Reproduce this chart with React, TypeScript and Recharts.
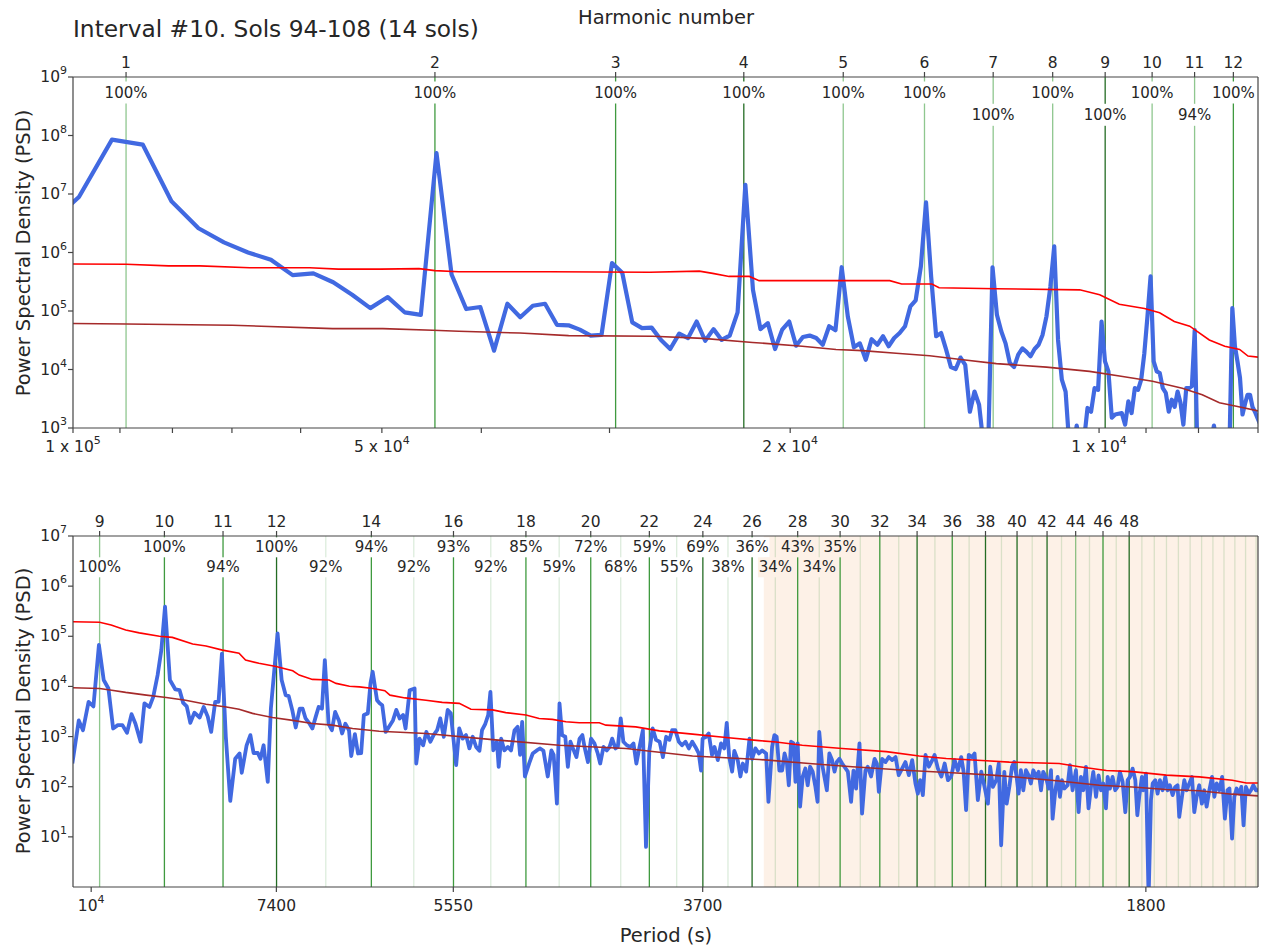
import React from "react"
import { ComposedChart, Line, XAxis, YAxis, ReferenceLine, ReferenceArea } from "recharts"

const FONT = "DejaVu Sans, sans-serif"
const TEXT = "#262626"
const AXIS = "#444"
const SOL = 88775 // seconds per sol, harmonic n sits at a period of SOL / n

// ---------- top panel: periods 1e5 .. 7000 s ----------
// spectrum bins at k / BINS_PER_SOL cycles per sol, starting at bin 12
const BINS_PER_SOL = 14.45
const TOP_FIRST_BIN = 12
const topPsd = [
  2.5e6, 8.9e6, 8.5e7, 7.0e7, 7.5e6, 2.6e6, 1.49e6, 1.0e6, 7.5e5, 4.1e5,
  4.4e5, 3.1e5, 1.9e5, 1.12e5, 1.73e5, 9.5e4, 8.6e4, 5.0e7, 4.2e5, 1.08e5,
  1.17e5, 2.1e4, 1.33e5, 7.8e4, 1.23e5, 1.33e5, 5.8e4, 5.7e4, 4.8e4, 3.8e4,
  3.9e4, 6.6e5, 4.5e5, 6.4e4, 5.1e4, 5.2e4, 3.2e4, 2.24e4, 4.1e4, 3.45e4,
  6.6e4, 3.1e4, 4.9e4, 3.2e4, 3.8e4, 9.5e4, 1.44e7, 2.3e5, 4.9e4, 6.2e4,
  2.24e4, 4.8e4, 6.6e4, 2.55e4, 3.6e4, 3.8e4, 3.45e4, 2.65e4, 5.5e4, 4.7e4,
  5.6e5, 8.0e4, 2.4e4, 2.8e4, 1.47e4, 3.3e4, 2.65e4, 3.7e4, 2.5e4, 3.45e4,
  4.2e4, 5.5e4, 1.2e5, 1.52e5, 5.8e5, 7.2e6, 3.9e5, 3.7e4, 4.2e4, 2.2e4,
  1.1e4, 1.02e4, 1.6e4, 1.2e4, 1.9e3, 4.2e3, 2.5e3, 500, 400, 5.6e5,
  8.6e4, 4.5e4, 2.8e4, 1.29e4, 1.1e4, 1.8e4, 2.3e4, 2.0e4, 1.68e4, 2.24e4,
  2.65e4, 3.9e4, 8.1e4, 2.6e5, 1.27e6, 3.2e4, 6.7e3, 4.2e3, 500, 400,
  1.1e3, 500, 600, 2.2e3, 1.9e3, 4.8e3, 4.5e3, 6.6e4, 1.38e4, 9.3e3,
  1.5e3, 1.7e3, 1.75e3, 1.8e3, 1.14e3, 2.85e3, 1.8e3, 4.8e3, 4.5e3, 6.7e3,
  1.9e4, 8.1e4, 3.9e5, 1.38e4, 9.3e3, 8.7e3, 4.8e3, 4.0e3, 1.9e3, 3.05e3,
  2.3e3, 4.2e3, 2.7e3, 1.14e3, 4.8e3, 4.8e3, 5.2e3, 4.7e4, 300, 200,
  400, 300, 500, 600, 1.1e3, 600, 300, 400, 200, 500,
  800, 1.12e5, 2.5e4, 1.38e4, 7.2e3, 1.7e3, 2.6e3, 3.7e3, 3.7e3, 2.3e3,
  1.9e3, 1.5e3, 1.2e3,
]
const topUpper: [number, number][] = [
  [0.83, 6.4e5], [1.0, 6.3e5], [1.1, 5.9e5], [1.18, 5.9e5], [1.32, 5.5e5], [1.51, 5.5e5],
  [1.61, 5.2e5], [1.77, 5.2e5], [1.93, 5.3e5], [2.0, 4.9e5], [2.11, 4.7e5], [2.59, 4.7e5],
  [3.24, 4.6e5], [3.62, 4.8e5], [3.73, 4.4e5], [3.87, 3.9e5], [4.05, 3.9e5], [4.14, 3.3e5],
  [4.85, 3.3e5], [5.55, 3.3e5], [5.7, 2.9e5], [6.1, 2.9e5], [6.2, 2.5e5], [7.05, 2.4e5],
  [8.5, 2.3e5], [8.89, 1.9e5], [9.29, 1.3e5], [9.83, 1.1e5], [10.17, 9.3e4], [10.51, 6.6e4],
  [10.88, 5.5e4], [11.37, 3.2e4], [11.77, 2.5e4], [12.17, 2.2e4], [12.4, 1.7e4], [12.8, 1.6e4],
]
const topMean: [number, number][] = [
  [0.83, 6.2e4], [1.0, 6.0e4], [1.27, 5.7e4], [1.59, 5.0e4], [1.78, 5.0e4], [1.99, 4.7e4],
  [2.11, 4.5e4], [2.42, 4.2e4], [2.7, 3.8e4], [3.26, 3.7e4], [3.65, 3.4e4], [4.08, 2.9e4],
  [4.56, 2.5e4], [4.92, 2.2e4], [5.22, 2.1e4], [5.63, 1.9e4], [6.07, 1.72e4], [6.54, 1.47e4],
  [7.05, 1.26e4], [7.89, 1.1e4], [8.69, 9.3e3], [9.36, 7.6e3], [10.01, 6.3e3], [10.7, 4.8e3],
  [11.19, 3.7e3], [11.63, 2.7e3], [12.08, 2.35e3], [12.8, 1.9e3],
]
const topHarmonics = [1, 2, 3, 4, 5, 6, 7, 8, 9, 10, 11, 12]
const topShade = ["light", "medium", "medium", "dark", "light", "light", "light", "light", "dark", "light", "light", "medium"]
const topPct = ["100%", "100%", "100%", "100%", "100%", "100%", "100%", "100%", "100%", "100%", "94%", "100%"]
const topPctRow = [0, 0, 0, 0, 0, 0, 1, 0, 1, 0, 1, 0]
const topPeriodTicks = [100000, 90000, 80000, 70000, 60000, 50000, 40000, 30000, 20000, 10000, 9000, 8000, 7000]
const topPeriodLabels: Record<number, [string, string]> = {
  100000: ["1 x 10", "5"],
  50000: ["5 x 10", "4"],
  20000: ["2 x 10", "4"],
  10000: ["1 x 10", "4"],
}

// ---------- bottom panel: periods 10300 .. 1500 s ----------
// [harmonic number (cycles per sol), PSD]
const bottomPsd: [number, number][] = [
  [8.61, 290], [8.7, 2100], [8.76, 1340], [8.84, 4900], [8.91, 4000], [8.99, 67000],
  [9.06, 13400], [9.13, 9100], [9.2, 1450], [9.27, 1690], [9.34, 1690], [9.41, 1190],
  [9.48, 2800], [9.54, 1800], [9.62, 790], [9.68, 4600], [9.76, 3900], [9.82, 6200],
  [9.89, 16800], [9.95, 53000], [10.01, 390000], [10.09, 13400], [10.18, 8700], [10.25, 8400],
  [10.31, 4700], [10.37, 4000], [10.43, 1880], [10.5, 3000], [10.59, 2400], [10.66, 3900],
  [10.73, 2500], [10.79, 1240], [10.86, 4900], [10.92, 4900], [10.98, 45000], [11.05, 990],
  [11.13, 52], [11.22, 360], [11.3, 460], [11.34, 190], [11.43, 670], [11.5, 1070],
  [11.56, 470], [11.64, 470], [11.69, 360], [11.75, 670], [11.83, 125], [11.89, 3600],
  [11.95, 18000], [12.02, 114000], [12.1, 13400], [12.18, 6700], [12.24, 6400], [12.31, 3400],
  [12.38, 1520], [12.46, 3600], [12.52, 3600], [12.58, 2300], [12.65, 1880], [12.72, 1450],
  [12.79, 2500], [12.85, 3900], [12.92, 3600], [12.98, 33500], [13.06, 1800], [13.13, 1340],
  [13.2, 3100], [13.28, 2100], [13.35, 1150], [13.42, 1800], [13.5, 1340], [13.55, 410],
  [13.63, 1120], [13.7, 460], [13.77, 470], [13.83, 2700], [13.92, 2900], [13.98, 11500],
  [14.03, 19600], [14.13, 5300], [14.19, 4600], [14.25, 4200], [14.33, 1240], [14.43, 1690],
  [14.5, 2100], [14.58, 3400], [14.66, 2300], [14.74, 2700], [14.8, 1450], [14.9, 8400],
  [15.02, 9100], [15.06, 290], [15.14, 910], [15.23, 670], [15.31, 1240], [15.41, 790],
  [15.49, 1070], [15.58, 1340], [15.66, 2300], [15.75, 990], [15.85, 3400], [15.93, 2900],
  [16.07, 270], [16.15, 1450], [16.24, 910], [16.33, 1070], [16.42, 580], [16.51, 990],
  [16.6, 620], [16.69, 520], [16.76, 1340], [16.85, 1800], [16.93, 2700], [16.99, 7800],
  [17.07, 530], [17.17, 790], [17.22, 250], [17.29, 910], [17.38, 530], [17.48, 620],
  [17.57, 530], [17.67, 1340], [17.76, 1560], [17.83, 430], [17.89, 1970], [17.97, 160],
  [18.1, 300], [18.2, 460], [18.32, 530], [18.42, 580], [18.52, 520], [18.65, 160],
  [18.76, 530], [18.83, 430], [18.93, 46], [19.01, 4600], [19.09, 1070], [19.19, 990],
  [19.27, 250], [19.35, 790], [19.43, 580], [19.54, 390], [19.64, 910], [19.73, 1070],
  [19.8, 620], [19.91, 310], [20.01, 910], [20.12, 730], [20.23, 460], [20.31, 290],
  [20.42, 620], [20.53, 530], [20.62, 620], [20.71, 910], [20.82, 580], [20.9, 620],
  [21.0, 2300], [21.09, 790], [21.21, 670], [21.33, 620], [21.44, 730], [21.54, 290],
  [21.65, 620], [21.77, 1340], [21.88, 6.3], [22.0, 530], [22.12, 1450], [22.24, 860],
  [22.37, 790], [22.49, 390], [22.61, 990], [22.73, 860], [22.83, 1340], [22.95, 1340],
  [23.08, 790], [23.2, 670], [23.33, 790], [23.46, 580], [23.59, 790], [23.71, 620],
  [23.84, 460], [23.93, 210], [23.99, 910], [24.13, 990], [24.23, 1150], [24.36, 430],
  [24.46, 620], [24.59, 340], [24.72, 730], [24.85, 580], [24.95, 1880], [25.05, 390],
  [25.17, 200], [25.26, 520], [25.4, 340], [25.51, 160], [25.61, 290], [25.75, 200],
  [25.89, 910], [26.0, 360], [26.14, 580], [26.29, 460], [26.43, 530], [26.6, 460],
  [26.7, 50], [26.86, 620], [26.96, 1070], [27.06, 990], [27.18, 210], [27.3, 210],
  [27.41, 460], [27.51, 310], [27.6, 107], [27.7, 790], [27.81, 730], [27.9, 125],
  [28.0, 730], [28.11, 40], [28.23, 160], [28.35, 230], [28.46, 107], [28.57, 250],
  [28.69, 200], [28.82, 99], [28.92, 50], [29.0, 1240], [29.13, 290], [29.24, 160],
  [29.36, 85], [29.48, 460], [29.61, 340], [29.73, 200], [29.84, 310], [29.97, 360],
  [30.1, 290], [30.21, 250], [30.38, 200], [30.54, 50], [30.66, 210], [30.79, 92],
  [30.96, 730], [31.09, 29], [31.26, 210], [31.38, 250], [31.55, 160], [31.73, 360],
  [31.85, 290], [31.95, 79], [32.12, 360], [32.3, 310], [32.47, 390], [32.65, 340],
  [32.83, 390], [33.0, 170], [33.18, 230], [33.36, 310], [33.55, 170], [33.73, 340],
  [33.91, 116], [34.04, 73], [34.17, 135], [34.32, 68], [34.47, 430], [34.66, 250],
  [34.85, 340], [34.98, 430], [35.17, 230], [35.37, 160], [35.56, 290], [35.75, 135],
  [35.94, 160], [36.14, 340], [36.33, 210], [36.53, 390], [36.67, 200], [36.82, 34],
  [36.98, 430], [37.18, 390], [37.33, 460], [37.53, 54], [37.74, 200], [37.94, 99],
  [38.15, 46], [38.29, 250], [38.46, 99], [38.67, 135], [38.83, 290], [38.98, 6.8],
  [39.18, 198], [39.33, 46], [39.5, 99], [39.67, 249], [39.82, 313], [39.97, 157],
  [40.1, 73], [40.25, 213], [40.41, 85], [40.58, 213], [40.76, 169], [40.91, 116],
  [41.07, 213], [41.25, 157], [41.43, 198], [41.59, 85], [41.74, 198], [41.92, 157],
  [42.11, 92], [42.27, 213], [42.38, 23], [42.57, 85], [42.73, 157], [42.89, 63],
  [43.03, 135], [43.19, 92], [43.43, 107], [43.59, 269], [43.78, 85], [44.02, 213],
  [44.21, 31], [44.38, 157], [44.55, 85], [44.74, 249], [44.93, 37], [45.11, 99],
  [45.28, 198], [45.48, 63], [45.67, 169], [45.85, 85], [46.02, 116], [46.22, 37],
  [46.35, 157], [46.52, 92], [46.72, 157], [46.92, 85], [47.1, 99], [47.28, 198],
  [47.49, 125], [47.7, 31], [47.88, 135], [48.06, 157], [48.27, 230], [48.48, 135],
  [48.64, 27], [48.79, 63], [49.0, 157], [49.11, 85], [49.33, 183], [49.54, 0.6],
  [49.73, 54], [49.87, 116], [50.08, 135], [50.27, 73], [50.46, 135], [50.68, 85],
  [50.9, 157], [51.09, 85], [51.28, 107], [51.51, 68], [51.73, 99], [51.93, 107],
  [52.07, 25], [52.3, 63], [52.5, 135], [52.7, 85], [52.93, 116], [53.16, 157],
  [53.36, 31], [53.56, 63], [53.79, 107], [54.02, 46], [54.23, 85], [54.44, 40],
  [54.68, 85], [54.92, 157], [55.13, 63], [55.34, 116], [55.59, 85], [55.83, 157],
  [56.08, 23], [56.32, 85], [56.5, 92], [56.74, 9.2], [56.95, 63], [57.16, 92],
  [57.41, 73], [57.6, 99], [57.81, 17], [58.03, 99], [58.29, 73], [58.51, 85],
  [58.73, 107], [58.99, 85], [59.24, 85],
]
const bottomUpper: [number, number][] = [
  [8.6, 1.95e5], [9.0, 1.9e5], [9.17, 1.68e5], [9.39, 1.33e5], [9.6, 1.17e5], [9.92, 1.0e5],
  [10.13, 9.5e4], [10.47, 7.0e4], [10.7, 6.4e4], [10.99, 5.3e4], [11.29, 4.6e4], [11.41, 3.35e4],
  [11.66, 2.9e4], [11.99, 2.5e4], [12.32, 2.05e4], [12.45, 1.68e4], [12.72, 1.38e4], [13.07, 1.34e4],
  [13.22, 1.15e4], [13.51, 1.01e4], [13.73, 9.8e3], [14.04, 9.1e3], [14.31, 8.2e3], [14.43, 6.7e3],
  [14.79, 5.9e3], [15.3, 5.3e3], [15.71, 4.8e3], [16.15, 4.6e3], [16.46, 3.5e3], [17.05, 3.4e3],
  [17.42, 3.0e3], [18.0, 2.7e3], [18.39, 2.3e3], [18.79, 2.2e3], [19.21, 1.97e3], [19.63, 1.88e3],
  [20.28, 1.88e3], [20.5, 1.69e3], [21.52, 1.56e3], [22.36, 1.3e3], [23.6, 1.12e3], [24.92, 960],
  [26.3, 830], [27.03, 780], [28.21, 670], [30.1, 580], [32.34, 500], [34.12, 410],
  [35.65, 366], [38.05, 330], [39.5, 310], [41.0, 300], [42.84, 290], [44.26, 250],
  [46.25, 210], [48.25, 200], [50.99, 170], [53.8, 157], [56.76, 135], [58.07, 119], [59.5, 119],
]
const bottomMean: [number, number][] = [
  [8.6, 9.4e3], [9.0, 9.1e3], [9.18, 8.4e3], [9.39, 7.6e3], [9.71, 6.7e3], [10.03, 6.0e3],
  [10.35, 5.3e3], [10.7, 4.4e3], [11.06, 3.9e3], [11.29, 3.5e3], [11.54, 2.9e3], [11.92, 2.4e3],
  [12.32, 2.1e3], [12.72, 1.82e3], [13.14, 1.69e3], [13.58, 1.45e3], [14.18, 1.28e3], [15.3, 1.15e3],
  [17.05, 870], [19.0, 670], [21.18, 580], [23.6, 410], [26.3, 350], [28.53, 290],
  [30.6, 250], [33.57, 210], [36.0, 190], [38.42, 170], [39.5, 160], [41.0, 146],
  [42.84, 130], [45.73, 107], [48.25, 99], [50.99, 88], [53.8, 83], [56.76, 71], [59.5, 65],
]
const bottomHarmonics = [
  9, 10, 11, 12, 13, 14, 15, 16, 17, 18, 19, 20, 21, 22, 23, 24, 25, 26, 27, 28, 29, 30, 31, 32, 33, 34,
  35, 36, 37, 38, 39, 40, 41, 42, 43, 44, 45, 46, 47, 48, 49, 50, 51, 52, 53, 54, 55, 56, 57, 58, 59,
]
const bottomShade = [
  "light", "medium", "medium", "dark", "pale", "medium", "pale", "medium", "pale", "medium",
  "pale", "medium", "pale", "medium", "pale", "dark", "pale", "dark", "pale", "medium",
  "pale", "medium", "pale", "medium", "pale", "dark", "pale", "medium", "pale", "dark",
  "pale", "dark", "pale", "dark", "pale", "light", "pale", "medium", "pale", "dark",
  "pale", "pale", "pale", "pale", "pale", "pale", "pale", "pale", "pale", "pale", "pale",
]
const bottomTickHarmonics = [9, 10, 11, 12, 14, 16, 18, 20, 22, 24, 26, 28, 30, 32, 34, 36, 38, 40, 42, 44, 46, 48]
const bottomPctHarmonics = [9, 10, 11, 12, 13, 14, 15, 16, 17, 18, 19, 20, 21, 22, 23, 24, 25, 26, 27, 28, 29, 30]
const bottomPct = [
  "100%", "100%", "94%", "100%", "92%", "94%", "92%", "93%", "92%", "85%", "59%",
  "72%", "68%", "59%", "55%", "69%", "38%", "36%", "34%", "43%", "34%", "35%",
]
const bottomPctRow = [1, 0, 1, 0, 1, 0, 1, 0, 1, 0, 1, 0, 1, 0, 1, 0, 1, 0, 1, 0, 1, 0]
const bottomPeriodTicks = [10000, 7400, 5550, 3700, 1800]
const bottomPeriodLabels: Record<number, [string, string]> = {
  10000: ["10", "4"],
  7400: ["7400", ""],
  5550: ["5550", ""],
  3700: ["3700", ""],
  1800: ["1800", ""],
}
const SHADED_FROM = 26.5 // harmonic where the shaded band starts
const SHADE_FILL = "#f4a460"
const SHADE_OPACITY = 0.15

const SHADES: Record<string, { color: string; opacity: number }> = {
  dark: { color: "#186418", opacity: 0.95 },
  medium: { color: "#2a8f2a", opacity: 0.9 },
  light: { color: "#1f8f1f", opacity: 0.5 },
  pale: { color: "#2f8f2f", opacity: 0.17 },
}

const toRows = (pts: [number, number][]) => pts.map(([h, v]) => ({ h, v }))

function PowTick(p: any) {
  const exp = Math.round(Math.log10(p.payload.value))
  return (
    <text x={p.x - 1} y={p.y} textAnchor="end" dominantBaseline="central" fontSize={15.5} fill={TEXT} fontFamily={FONT}>
      10<tspan dy={-7} fontSize={11}>{exp}</tspan>
    </text>
  )
}

function HarmTick(p: any) {
  return (
    <text x={p.x} y={p.y - 9} textAnchor="middle" dominantBaseline="central" fontSize={15.5} fill={TEXT} fontFamily={FONT}>
      {p.payload.value}
    </text>
  )
}

function makePeriodTick(labels: Record<number, [string, string]>) {
  return (p: any) => {
    const lab = labels[Math.round(SOL / p.payload.value)]
    if (!lab) return <g />
    return (
      <text x={p.x} y={p.y + 13.5} textAnchor="middle" dominantBaseline="central" fontSize={15.5} fill={TEXT} fontFamily={FONT}>
        {lab[0]}
        {lab[1] ? <tspan dy={-7} fontSize={11}>{lab[1]}</tspan> : null}
      </text>
    )
  }
}

function makePctLabel(text: string, centerY: number, boxH: number, shaded: boolean) {
  return (p: any) => {
    const vb = p.viewBox
    const w = text.length * 9.6 + 6
    const cy = vb.y + centerY
    return (
      <g>
        <rect x={vb.x - w / 2} y={cy - boxH / 2} width={w} height={boxH} fill="#fff" />
        {shaded ? (
          <rect x={vb.x - w / 2} y={cy - boxH / 2} width={w} height={boxH} fill={SHADE_FILL} fillOpacity={SHADE_OPACITY} />
        ) : null}
        <text x={vb.x} y={cy} textAnchor="middle" dominantBaseline="central" fontSize={15} fill={TEXT} fontFamily={FONT}>
          {text}
        </text>
      </g>
    )
  }
}

function Panel(props: any) {
  const {
    top, height, topAxisH, bottomAxisH, xDomain, yDomain, yTicks, periodTicks, periodLabels,
    harmTicks, harmLines, harmShade, pctHarm, pctText, pctRow, rowY, rowH, psd, upper, mean, shadeFrom, blueWidth,
  } = props
  return (
    <div style={{ position: "absolute", left: 0, top }}>
      <ComposedChart width={1264} height={height} margin={{ top: 0, right: 0, bottom: 0, left: 0 }}>
        <XAxis
          xAxisId="p" type="number" dataKey="h" scale="log" domain={xDomain} allowDataOverflow
          ticks={periodTicks.map((s: number) => SOL / s)} tick={makePeriodTick(periodLabels)} interval={0}
          tickSize={5} tickMargin={0} height={bottomAxisH} stroke={AXIS} strokeWidth={1.2}
        />
        <XAxis
          xAxisId="harm" orientation="top" type="number" dataKey="h" scale="log" domain={xDomain} allowDataOverflow
          ticks={harmTicks} tick={HarmTick} interval={0}
          tickSize={5} tickMargin={0} height={topAxisH} stroke={AXIS} strokeWidth={1.2}
        />
        <YAxis
          yAxisId="psd" type="number" scale="log" domain={yDomain} allowDataOverflow ticks={yTicks}
          tick={PowTick} interval={0} tickSize={5} tickMargin={0} width={73} stroke={AXIS} strokeWidth={1.2}
        />
        <YAxis yAxisId="frame" orientation="right" type="number" domain={[0, 1]} tick={false} tickLine={false} width={6} stroke={AXIS} strokeWidth={1.2} />
        {shadeFrom ? (
          <ReferenceArea xAxisId="p" yAxisId="psd" x1={shadeFrom} x2={xDomain[1]} fill={SHADE_FILL} fillOpacity={SHADE_OPACITY} stroke="none" ifOverflow="hidden" />
        ) : null}
        {harmLines.map((n: number, i: number) => {
          const s = SHADES[harmShade[i]]
          const pi = pctHarm.indexOf(n)
          const shaded = !!shadeFrom && n >= shadeFrom
          return (
            <ReferenceLine
              key={n} xAxisId="p" yAxisId="psd" x={n} stroke={s.color} strokeOpacity={s.opacity} strokeWidth={1.3}
              ifOverflow="hidden"
              label={pi >= 0 ? makePctLabel(pctText[pi], rowY[pctRow[pi]], rowH, shaded) : undefined}
            />
          )
        })}
        <Line xAxisId="p" yAxisId="psd" data={psd} dataKey="v" type="linear" dot={false} stroke="#4169e1" strokeWidth={blueWidth} strokeLinejoin="round" isAnimationActive={false} />
        <Line xAxisId="p" yAxisId="psd" data={toRows(mean)} dataKey="v" type="linear" dot={false} stroke="#a52a2a" strokeWidth={1.6} isAnimationActive={false} />
        <Line xAxisId="p" yAxisId="psd" data={toRows(upper)} dataKey="v" type="linear" dot={false} stroke="#ff0000" strokeWidth={1.6} isAnimationActive={false} />
      </ComposedChart>
    </div>
  )
}

export default function App() {
  const topRows = topPsd.map((v, i) => ({ h: (TOP_FIRST_BIN + i) / BINS_PER_SOL, v }))
  return (
    <div style={{ position: "absolute", left: 0, top: 0, width: 1264, height: 951, background: "#fff", fontFamily: FONT }}>
      <Panel
        top={0} height={470} topAxisH={77} bottomAxisH={42}
        xDomain={[SOL / 100000, SOL / 7000]} yDomain={[1e3, 1e9]} yTicks={[1e3, 1e4, 1e5, 1e6, 1e7, 1e8, 1e9]}
        periodTicks={topPeriodTicks} periodLabels={topPeriodLabels}
        harmTicks={topHarmonics} harmLines={topHarmonics} harmShade={topShade}
        pctHarm={topHarmonics} pctText={topPct} pctRow={topPctRow} rowY={[15.5, 37.8]} rowH={22}
        psd={topRows} upper={topUpper} mean={topMean} blueWidth={4.2}
      />
      <Panel
        top={460} height={490} topAxisH={76} bottomAxisH={63}
        xDomain={[SOL / 10300, SOL / 1500]} yDomain={[1, 1e7]} yTicks={[10, 1e2, 1e3, 1e4, 1e5, 1e6, 1e7]}
        periodTicks={bottomPeriodTicks} periodLabels={bottomPeriodLabels}
        harmTicks={bottomTickHarmonics} harmLines={bottomHarmonics} harmShade={bottomShade}
        pctHarm={bottomPctHarmonics} pctText={bottomPct} pctRow={bottomPctRow} rowY={[11.3, 31.3]} rowH={20}
        psd={toRows(bottomPsd)} upper={bottomUpper} mean={bottomMean} shadeFrom={SHADED_FROM} blueWidth={3.8}
      />
      <svg width={1264} height={951} style={{ position: "absolute", left: 0, top: 0, pointerEvents: "none" }}>
        <text x={73} y={28} fontSize={23.3} dominantBaseline="central" fill={TEXT} fontFamily={FONT}>
          Interval #10. Sols 94-108 (14 sols)
        </text>
        <text x={666} y={17} fontSize={19.5} textAnchor="middle" dominantBaseline="central" fill={TEXT} fontFamily={FONT}>
          Harmonic number
        </text>
        <text x={666} y={935} fontSize={19.5} textAnchor="middle" dominantBaseline="central" fill={TEXT} fontFamily={FONT}>
          Period (s)
        </text>
        <text transform="translate(23,253) rotate(-90)" fontSize={19.5} textAnchor="middle" dominantBaseline="central" fill={TEXT} fontFamily={FONT}>
          Power Spectral Density (PSD)
        </text>
        <text transform="translate(23,711) rotate(-90)" fontSize={19.5} textAnchor="middle" dominantBaseline="central" fill={TEXT} fontFamily={FONT}>
          Power Spectral Density (PSD)
        </text>
      </svg>
    </div>
  )
}
